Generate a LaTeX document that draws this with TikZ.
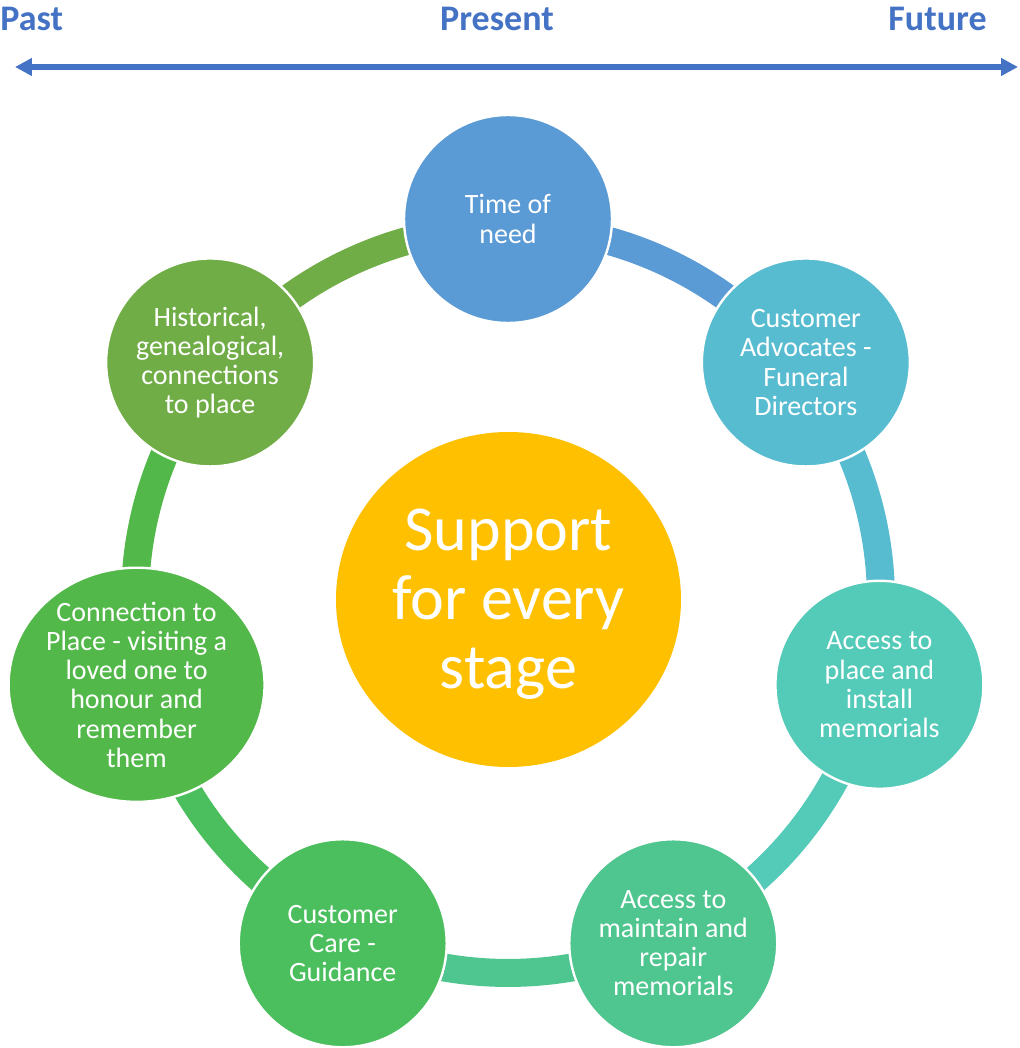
\documentclass[tikz,border=0pt]{standalone}
\usepackage{fontspec}
\setmainfont{Carlito}
\usetikzlibrary{shapes.geometric,arrows.meta}

\definecolor{axisblue}{HTML}{4472C4}
\definecolor{coreyellow}{HTML}{FFC000}
\definecolor{stageA}{HTML}{5B9BD5}
\definecolor{stageB}{HTML}{58BCD1}
\definecolor{stageC}{HTML}{54CAB8}
\definecolor{stageD}{HTML}{4FC58F}
\definecolor{stageE}{HTML}{4BBF5E}
\definecolor{stageF}{HTML}{53B84A}
\definecolor{stageG}{HTML}{70AD47}

\tikzstyle{stage} = [circle, draw=white, line width=1.2pt, minimum size=104pt, inner sep=0pt, text=white, align=center, font=\fontsize{14}{14.6}\selectfont]
\tikzstyle{link} = [line width=14pt]
\tikzstyle{era} = [axisblue, inner sep=0pt, font=\fontsize{18}{21}\selectfont\bfseries]

\begin{document}
\begin{tikzpicture}[x=0.5pt, y=0.5pt]

            \path [use as bounding box, fill=white] (-508,-448) rectangle (512,600);

            %% time line

            \node (past) [era, anchor=base west] at (-508,569) {Past};
            \node (present) [era, anchor=base] at (-11,569) {Present};
            \node (future) [era, anchor=base east] at (479,569) {Future};

            \coordinate (left) at (-493,533);
            \coordinate (right) at (510,533);
            \draw [axisblue, line width=3pt, {Triangle[length=8.5pt, width=8.5pt]}-{Triangle[length=8.5pt, width=8.5pt]}] (left) -- (right);

            %% ring

            \coordinate (r1) at (90:373);
            \coordinate (r2) at (38.57:373);
            \coordinate (r3) at (-12.86:373);
            \coordinate (r4) at (-64.29:373);
            \coordinate (r5) at (-115.71:373);
            \coordinate (r6) at (-167.14:373);
            \coordinate (r7) at (141.43:373);

            \draw [link, stageA] (r1) arc[start angle=90, end angle=38.57, radius=373];
            \draw [link, stageB] (r2) arc[start angle=38.57, end angle=-12.86, radius=373];
            \draw [link, stageC] (r3) arc[start angle=-12.86, end angle=-64.29, radius=373];
            \draw [link, stageD] (r4) arc[start angle=-64.29, end angle=-115.71, radius=373];
            \draw [link, stageE] (r5) arc[start angle=-115.71, end angle=-167.14, radius=373];
            \draw [link, stageF] (r6) arc[start angle=-167.14, end angle=-218.57, radius=373];
            \draw [link, stageG] (r7) arc[start angle=141.43, end angle=90, radius=373];

            %% stages

            \node (time) [stage, fill=stageA] at (90:381) {Time of\\need};
            \node (advocates) [stage, fill=stageB] at (38.57:381) {Customer\\Advocates -\\Funeral\\Directors};
            \node (install) [stage, fill=stageC] at (-12.86:381) {Access to\\place and\\install\\memorials};
            \node (repair) [stage, fill=stageD] at (-64.29:381) {Access to\\maintain and\\repair\\memorials};
            \node (care) [stage, fill=stageE] at (-115.71:381) {Customer\\Care -\\Guidance};
            \node (visit) [stage, ellipse, fill=stageF, minimum width=127pt, minimum height=109pt] at (-167.14:381) {Connection to\\Place - visiting a\\loved one to\\honour and\\remember\\them};
            \node (history) [stage, fill=stageG] at (141.43:381) {Historical,\\genealogical,\\connections\\to place};

            %% centre (the strut keeps the lines centred on the ellipse)

            \node (support) [ellipse, fill=coreyellow, minimum width=172.5pt, minimum height=167.5pt, inner sep=0pt, text=white, align=center, font=\fontsize{32}{34.5}\selectfont] at (0.5,0.5) {\rule{0pt}{26pt}Support\\for every\\stage};

        \end{tikzpicture}
\end{document}
